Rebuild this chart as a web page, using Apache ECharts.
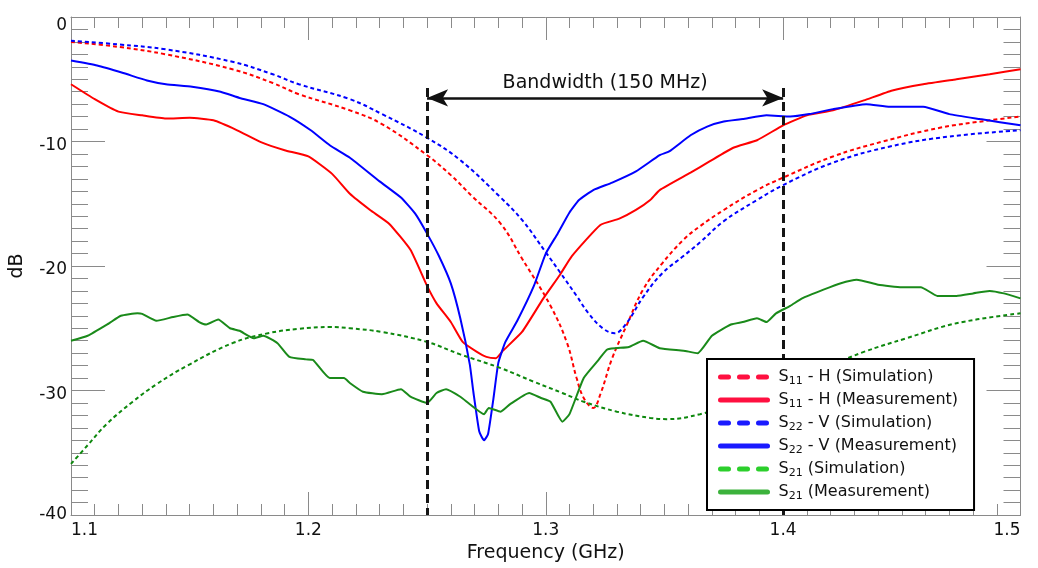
<!DOCTYPE html>
<html>
<head>
<meta charset="utf-8">
<script src="https://cdn.jsdelivr.net/npm/echarts@6/dist/echarts.min.js"></script>
<style>
  html, body { margin: 0; padding: 0; background: #fff; }
  #chart { width: 1038px; height: 568px; }
</style>
</head>
<body>
<div id="chart"></div>
<script>
// Measured and simulated S-parameters, [frequency GHz, dB]
const s11Sim = [[1.100,-2.0],[1.120,-2.4],[1.140,-3.0],[1.168,-4.2],[1.185,-5.3],[1.196,-6.2],[1.2175,-7.5],[1.231,-8.6],[1.250,-11.1],[1.260,-12.7],[1.269,-14.4],[1.281,-16.6],[1.290,-19.4],[1.302,-23.2],[1.309,-26.2],[1.313,-29.0],[1.316,-30.6],[1.320,-31.4],[1.323,-30.3],[1.328,-27.4],[1.334,-24.8],[1.341,-21.9],[1.349,-19.8],[1.358,-17.9],[1.365,-16.8],[1.375,-15.5],[1.389,-13.9],[1.400,-12.9],[1.421,-11.2],[1.442,-10.0],[1.466,-8.9],[1.487,-8.3],[1.500,-8.0]];

const s11Meas = [[1.100,-5.4],[1.110,-6.6],[1.120,-7.6],[1.130,-7.9],[1.140,-8.15],[1.150,-8.1],[1.160,-8.3],[1.170,-9.1],[1.180,-10.05],[1.190,-10.7],[1.200,-11.2],[1.210,-12.6],[1.2175,-14.2],[1.226,-15.5],[1.234,-16.6],[1.243,-18.7],[1.250,-21.6],[1.254,-23.0],[1.260,-24.5],[1.265,-26.1],[1.271,-26.9],[1.275,-27.3],[1.279,-27.4],[1.282,-26.8],[1.290,-25.3],[1.299,-22.6],[1.306,-20.7],[1.311,-19.2],[1.323,-16.7],[1.331,-16.2],[1.338,-15.5],[1.344,-14.7],[1.348,-13.9],[1.361,-12.5],[1.369,-11.6],[1.379,-10.5],[1.389,-9.9],[1.400,-8.7],[1.410,-7.9],[1.421,-7.5],[1.434,-6.7],[1.446,-5.9],[1.459,-5.4],[1.473,-5.0],[1.487,-4.6],[1.500,-4.2]];

const s22Sim = [[1.100,-1.9],[1.120,-2.2],[1.140,-2.6],[1.168,-3.6],[1.185,-4.6],[1.196,-5.4],[1.2175,-6.6],[1.231,-7.8],[1.250,-9.7],[1.264,-11.5],[1.281,-14.5],[1.290,-16.3],[1.300,-18.9],[1.306,-20.5],[1.313,-22.4],[1.318,-23.8],[1.324,-25.0],[1.329,-25.4],[1.334,-24.6],[1.341,-22.5],[1.349,-20.6],[1.358,-19.2],[1.365,-18.1],[1.375,-16.4],[1.389,-14.7],[1.400,-13.5],[1.421,-11.7],[1.445,-10.4],[1.470,-9.6],[1.500,-9.1]];

const s22Meas = [[1.100,-3.5],[1.111,-3.9],[1.122,-4.5],[1.132,-5.1],[1.140,-5.4],[1.151,-5.6],[1.163,-6.0],[1.171,-6.5],[1.181,-7.0],[1.192,-8.0],[1.201,-9.1],[1.209,-10.3],[1.2175,-11.3],[1.230,-13.2],[1.239,-14.5],[1.245,-15.8],[1.250,-17.4],[1.255,-19.2],[1.260,-21.4],[1.264,-24.2],[1.268,-27.9],[1.2695,-30.1],[1.272,-33.3],[1.274,-34.0],[1.2757,-33.5],[1.278,-30.6],[1.280,-27.8],[1.283,-26.1],[1.288,-24.4],[1.295,-21.6],[1.300,-19.0],[1.305,-17.4],[1.310,-15.7],[1.314,-14.7],[1.320,-13.9],[1.328,-13.3],[1.338,-12.4],[1.348,-11.1],[1.352,-10.8],[1.361,-9.5],[1.368,-8.8],[1.375,-8.4],[1.383,-8.2],[1.393,-7.9],[1.403,-8.0],[1.411,-7.8],[1.421,-7.4],[1.435,-7.0],[1.445,-7.2],[1.459,-7.2],[1.470,-7.8],[1.483,-8.2],[1.500,-8.7]];

const s21Sim = [[1.100,-35.9],[1.107,-34.4],[1.115,-32.7],[1.126,-30.9],[1.136,-29.5],[1.149,-28.0],[1.168,-26.2],[1.183,-25.4],[1.196,-25.05],[1.209,-24.9],[1.2175,-25.0],[1.231,-25.3],[1.250,-26.1],[1.264,-27.1],[1.281,-28.2],[1.295,-29.3],[1.307,-30.2],[1.316,-30.9],[1.330,-31.7],[1.344,-32.2],[1.351,-32.3],[1.365,-31.9],[1.380,-31.0],[1.400,-29.6],[1.420,-28.0],[1.434,-26.9],[1.452,-25.8],[1.473,-24.6],[1.500,-23.8]];

const s21Meas = [[1.100,-26.0],[1.107,-25.6],[1.116,-24.6],[1.121,-24.0],[1.128,-23.8],[1.130,-23.85],[1.136,-24.4],[1.143,-24.1],[1.149,-23.9],[1.154,-24.5],[1.157,-24.7],[1.162,-24.3],[1.167,-25.0],[1.171,-25.2],[1.177,-25.8],[1.181,-25.6],[1.187,-26.2],[1.192,-27.3],[1.199,-27.5],[1.202,-27.55],[1.209,-29.0],[1.215,-29.0],[1.2175,-29.4],[1.223,-30.1],[1.231,-30.3],[1.239,-29.9],[1.243,-30.5],[1.250,-31.0],[1.254,-30.2],[1.258,-29.9],[1.264,-30.5],[1.268,-31.1],[1.274,-31.9],[1.276,-31.4],[1.281,-31.7],[1.285,-31.1],[1.293,-30.2],[1.298,-30.6],[1.302,-30.9],[1.307,-32.5],[1.310,-31.9],[1.316,-29.0],[1.322,-27.6],[1.326,-26.7],[1.335,-26.5],[1.341,-26.0],[1.348,-26.6],[1.358,-26.8],[1.364,-27.0],[1.370,-25.6],[1.378,-24.7],[1.383,-24.5],[1.389,-24.2],[1.393,-24.5],[1.397,-23.8],[1.403,-23.2],[1.408,-22.6],[1.417,-21.9],[1.424,-21.4],[1.431,-21.1],[1.440,-21.5],[1.450,-21.7],[1.458,-21.7],[1.465,-22.4],[1.473,-22.4],[1.480,-22.2],[1.487,-22.0],[1.493,-22.2],[1.500,-22.6]];

// Bandwidth marker: edges (GHz), top of the edge lines and arrow level (dB)
const bandEdges = [1.25, 1.40];
const bandTop = -5.7;
const bandArrowLevel = -6.5;
const bandText = 'Bandwidth (150 MHz)';

const seriesNames = ['S11 - H (Simulation)', 'S11 - H (Measurement)', 'S22 - V (Simulation)', 'S22 - V (Measurement)', 'S21 (Simulation)', 'S21 (Measurement)'];
const lineColors = ['#ff0000', '#ff0000', '#0000ff', '#0000ff', '#0d880d', '#1a8a1a'];
const legendColors = ['#ff1040', '#ff1040', '#1a1aff', '#1a1aff', '#2ccf2c', '#3cb23c'];
const seriesData = [s11Sim, s11Meas, s22Sim, s22Meas, s21Sim, s21Meas];

const FONT = 'DejaVu Sans';
const AXIS_GRAY = '#8a8a8a';

function axisCommon(extra) {
  return Object.assign({
    type: 'value',
    axisLine: { show: true, onZero: false, lineStyle: { color: AXIS_GRAY, width: 1 } },
    splitLine: { show: false },
    minorSplitLine: { show: false }
  }, extra);
}

const xTicks = { min: 1.1, max: 1.5, interval: 0.1 };
const yTicks = { min: -40, max: 0, interval: 10 };

const xAxes = [
  axisCommon(Object.assign({
    position: 'bottom',
    axisTick: { show: true, inside: true, length: 23, lineStyle: { color: AXIS_GRAY } },
    minorTick: { show: true, splitNumber: 10, length: 11, lineStyle: { color: AXIS_GRAY } },
    axisLabel: {
      fontSize: 17, fontFamily: FONT, color: '#111', margin: 7,
      alignMinLabel: 'left', alignMaxLabel: 'right',
      formatter: v => v.toFixed(1)
    },
    name: 'Frequency (GHz)', nameLocation: 'middle', nameGap: 29,
    nameTextStyle: { fontSize: 19, fontFamily: FONT, color: '#111' }
  }, xTicks)),
  axisCommon(Object.assign({
    position: 'top',
    axisTick: { show: true, inside: true, length: 23, lineStyle: { color: AXIS_GRAY } },
    minorTick: { show: true, splitNumber: 10, length: 11, lineStyle: { color: AXIS_GRAY } },
    axisLabel: { show: false }
  }, xTicks))
];

// dB labels: the top one sits inside the frame, inner ones slightly below their ticks
function yLabel(v) {
  if (v === yTicks.max) return '{top|' + v + '}';
  if (v === yTicks.min) return '{end|' + v + '}';
  return '{mid|' + v + '}';
}

const yAxes = [
  axisCommon(Object.assign({
    position: 'left',
    axisTick: { show: true, inside: true, length: 34, lineStyle: { color: AXIS_GRAY } },
    minorTick: { show: true, splitNumber: 10, length: 17, lineStyle: { color: AXIS_GRAY } },
    axisLabel: {
      fontSize: 17, fontFamily: FONT, color: '#111', margin: 4,
      formatter: yLabel,
      rich: {
        top: { fontSize: 17, fontFamily: FONT, color: '#111', padding: [18, 0, 0, 0] },
        end: { fontSize: 17, fontFamily: FONT, color: '#111' },
        mid: { fontSize: 17, fontFamily: FONT, color: '#111', padding: [8, 0, 0, 0] }
      }
    },
    name: 'dB', nameLocation: 'middle', nameGap: 44,
    nameTextStyle: { fontSize: 19, fontFamily: FONT, color: '#111' }
  }, yTicks)),
  axisCommon(Object.assign({
    position: 'right',
    axisTick: { show: true, inside: true, length: 34, lineStyle: { color: AXIS_GRAY } },
    minorTick: { show: true, splitNumber: 10, length: 17, lineStyle: { color: AXIS_GRAY } },
    axisLabel: { show: false }
  }, yTicks))
];

const series = seriesNames.map((name, i) => {
  const simulated = i % 2 === 0;
  return {
    name: name,
    type: 'line',
    xAxisIndex: 0,
    yAxisIndex: 0,
    data: seriesData[i],
    symbol: 'none',
    smooth: simulated ? 0.4 : 0.15,
    z: 2,
    lineStyle: {
      color: lineColors[i],
      width: 2,
      type: simulated ? [4, 3] : 'solid'
    },
    itemStyle: { color: lineColors[i] }
  };
});

// Band edge lines and the double-headed arrow between them
const edgeStyle = { color: '#151515', width: 3, type: [9, 5] };
series.push({
  name: 'band',
  type: 'line',
  data: [],
  z: 3,
  silent: true,
  markLine: {
    silent: true,
    animation: false,
    data: [
      [
        { coord: [bandEdges[0], bandTop], symbol: 'none', lineStyle: edgeStyle, label: { show: false } },
        { coord: [bandEdges[0], yTicks.min], symbol: 'none' }
      ],
      [
        { coord: [bandEdges[1], bandTop], symbol: 'none', lineStyle: edgeStyle, label: { show: false } },
        { coord: [bandEdges[1], yTicks.min], symbol: 'none' }
      ],
      [
        {
          coord: [bandEdges[0], bandArrowLevel], symbol: 'arrow', symbolSize: [13, 21],
          lineStyle: { color: '#111', width: 2.5, type: 'solid' },
          label: {
            show: true, position: 'insideMiddleTop', formatter: bandText,
            fontSize: 19, fontFamily: FONT, color: '#111', distance: 5
          }
        },
        { coord: [bandEdges[1], bandArrowLevel], symbol: 'arrow', symbolSize: [13, 21] }
      ]
    ]
  }
});

const legendData = seriesNames.map((name, i) => ({
  name: name,
  lineStyle: {
    color: legendColors[i],
    width: 5,
    type: i % 2 === 0 ? [8, 11] : 'solid',
    cap: 'round'
  },
  itemStyle: { color: 'rgba(0,0,0,0)', opacity: 0, borderWidth: 0 }
}));

const chart = echarts.init(document.getElementById('chart'), null, { renderer: 'canvas' });
chart.setOption({
  animation: false,
  backgroundColor: '#fff',
  textStyle: { fontFamily: FONT },
  grid: { left: 71, right: 17.5, top: 17, bottom: 45.5, containLabel: false },
  xAxis: xAxes,
  yAxis: yAxes,
  legend: {
    data: legendData,
    orient: 'vertical',
    left: 707,
    top: 359,
    padding: [8, 16, 8, 11],
    itemWidth: 47,
    itemHeight: 14,
    itemGap: 3,
    backgroundColor: '#fff',
    borderColor: '#000',
    borderWidth: 2,
    borderRadius: 0,
    selectedMode: false,
    z: 10,
    formatter: name => name.replace(/^S(\d\d)/, 'S{sub|$1}'),
    textStyle: {
      fontSize: 16, fontFamily: FONT, color: '#111', lineHeight: 20,
      padding: [0, 0, 0, 6],
      rich: {
        sub: { fontSize: 11, fontFamily: FONT, color: '#111', lineHeight: 20, padding: [8, 0, 0, 0] }
      }
    }
  },
  series: series
});
</script>
</body>
</html>
